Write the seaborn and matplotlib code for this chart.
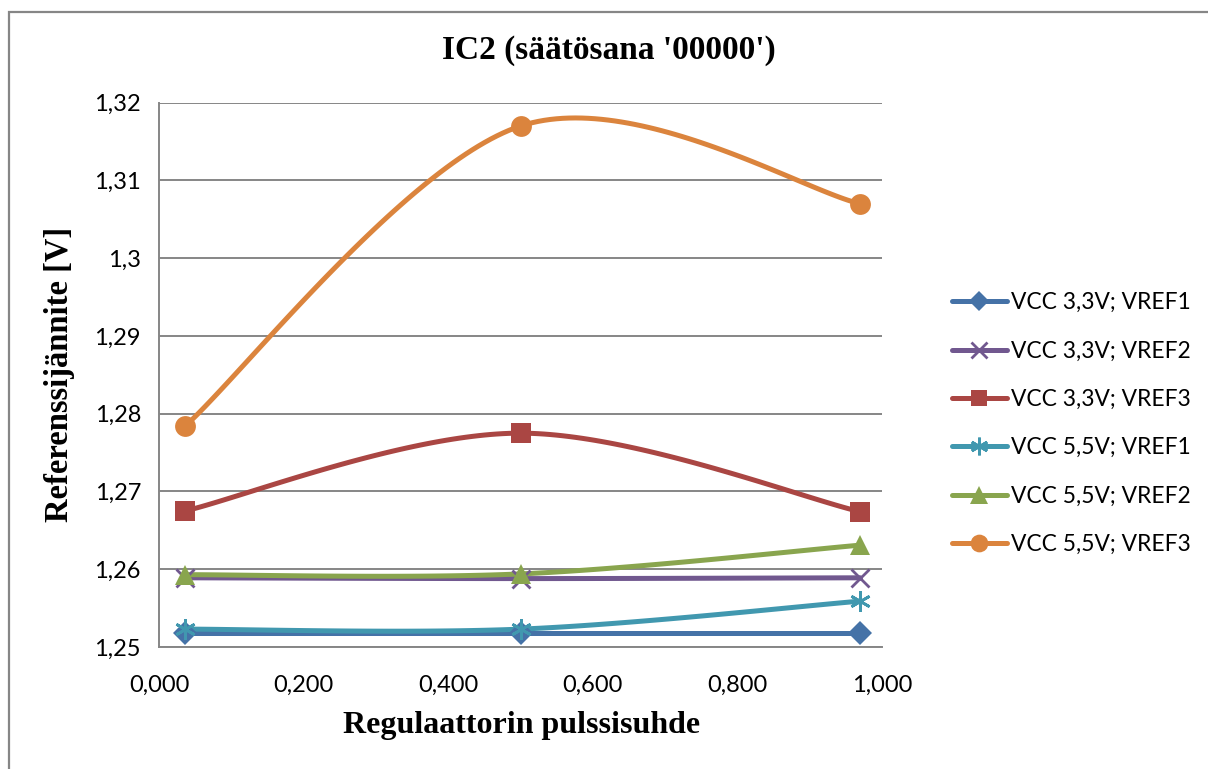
import numpy as np
import pandas as pd
import matplotlib
matplotlib.use("Agg")
import matplotlib.pyplot as plt
from matplotlib.lines import Line2D
from matplotlib.patches import Rectangle
import seaborn as sns

# ---- data ----
duty = [0.036, 0.500, 0.970]
series_names = ["VCC 3,3V; VREF1", "VCC 3,3V; VREF2", "VCC 3,3V; VREF3",
                "VCC 5,5V; VREF1", "VCC 5,5V; VREF2", "VCC 5,5V; VREF3"]
vcc33_vref1 = [1.2518, 1.2518, 1.2518]
vcc33_vref2 = [1.2589, 1.2588, 1.2589]
vcc33_vref3 = [1.2675, 1.2775, 1.2674]
vcc55_vref1 = [1.2523, 1.2523, 1.2559]
vcc55_vref2 = [1.2593, 1.2594, 1.2631]
vcc55_vref3 = [1.2784, 1.3170, 1.3070]
x_ticks = [0.0, 0.2, 0.4, 0.6, 0.8, 1.0]
x_ticklabels = ["0,000", "0,200", "0,400", "0,600", "0,800", "1,000"]
y_ticks = [1.25, 1.26, 1.27, 1.28, 1.29, 1.30, 1.31, 1.32]
y_ticklabels = ["1,25", "1,26", "1,27", "1,28", "1,29", "1,3", "1,31", "1,32"]
title = "IC2 (säätösana '00000')"
xlabel = "Regulaattorin pulssisuhde"
ylabel = "Referenssijännite [V]"

values = [vcc33_vref1, vcc33_vref2, vcc33_vref3, vcc55_vref1, vcc55_vref2, vcc55_vref3]
colors = ["#4572A7", "#71588F", "#AA4643", "#4198AF", "#89A54E", "#DB843D"]
markers = ["D", "x", "s", (6, 2, 0), "^", "o"]
msizes = [12.5, 13, 14, 15, 15, 15]


def smooth(xs, ys, n=60):
    """Excel-style smoothed line (Catmull-Rom Bezier) through the points."""
    xs = np.asarray(xs, float)
    ys = np.asarray(ys, float)
    P = np.column_stack([xs, ys])
    m = len(P)
    out = []
    t = np.linspace(0, 1, n)[:, None]
    for i in range(m - 1):
        p0 = P[max(i - 1, 0)]
        p1 = P[i]
        p2 = P[i + 1]
        p3 = P[min(i + 2, m - 1)]
        c1 = p1 + (p2 - p0) / 6.0
        c2 = p2 - (p3 - p1) / 6.0
        seg = ((1 - t) ** 3) * p1 + 3 * ((1 - t) ** 2) * t * c1 + 3 * (1 - t) * t ** 2 * c2 + t ** 3 * p2
        out.append(seg if i == 0 else seg[1:])
    arr = np.vstack(out)
    return arr[:, 0], arr[:, 1]


sns.set_theme(style="white")
plt.rcParams["font.family"] = ["Lato", "DejaVu Sans"]
plt.rcParams["text.color"] = "black"

W, H = 1208, 769
fig = plt.figure(figsize=(W / 100, H / 100), dpi=100)
fig.patch.set_facecolor("white")
ax = fig.add_axes([159 / W, 1 - 647 / H, (882 - 159) / W, (647 - 102.7) / H])

# chart border (only top/left visible in the original crop)
fig.patches.append(Rectangle((9 / W, -0.2), 2.0, 1.2 - 12 / H, transform=fig.transFigure,
                             fill=False, edgecolor="#868686", linewidth=1.6, zorder=0))

handles = []
for name, vals, col, mk, ms in zip(series_names, values, colors, markers, msizes):
    sx, sy = smooth(duty, vals)
    df = pd.DataFrame({"x": sx, "y": sy})
    sns.lineplot(data=df, x="x", y="y", ax=ax, color=col, linewidth=3.6,
                 estimator=None, sort=False, legend=False, zorder=3)
    mew = 2.0 if mk in ("x",) or isinstance(mk, tuple) else 0
    ax.plot(duty, vals, linestyle="none", marker=mk, markersize=ms, color=col,
            markeredgecolor=col, markeredgewidth=mew, zorder=4, clip_on=False)
    handles.append(Line2D([0], [0], color=col, linewidth=3.6, marker=mk,
                          markersize=ms * 0.85, markeredgecolor=col, markeredgewidth=mew))

ax.set_xlim(0, 1)
ax.set_ylim(1.25, 1.32)
ax.set_xticks(x_ticks)
ax.set_xticklabels(x_ticklabels)
ax.set_yticks(y_ticks)
ax.set_yticklabels(y_ticklabels)
ax.set_xlabel("")
ax.set_ylabel("")
ax.grid(axis="y", color="#868686", linewidth=1.4)
ax.grid(axis="x", visible=False)
for s in ["top", "right"]:
    ax.spines[s].set_visible(False)
for s in ["left", "bottom"]:
    ax.spines[s].set_color("#868686")
    ax.spines[s].set_linewidth(1.4)
ax.tick_params(axis="both", which="major", direction="out", length=7, width=1.4,
               color="#868686", labelsize=17, labelcolor="black")
ax.tick_params(axis="y", pad=6)
ax.tick_params(axis="x", pad=13)
ax.set_axisbelow(True)

serif = ["Liberation Serif", "DejaVu Serif"]
fig.text(609 / W, 1 - 50 / H, title, ha="center", va="center", fontsize=24,
         fontweight="bold", family=serif, color="black")
fig.text(522 / W, 1 - 725 / H, xlabel, ha="center", va="center", fontsize=23,
         fontweight="bold", family=serif, color="black")
fig.text(60 / W, 1 - 374.5 / H, ylabel, ha="center", va="center", rotation=90, fontsize=23.5,
         fontweight="bold", family=serif, color="black")

fig.legend(handles, series_names, loc="center left", bbox_to_anchor=(943 / W, 1 - 423.5 / H),
           frameon=False, fontsize=16.4, handlelength=2.4, handletextpad=0.2,
           labelspacing=1.2, borderaxespad=0, labelcolor="black")

fig.savefig("out.png", dpi=100, facecolor="white")
